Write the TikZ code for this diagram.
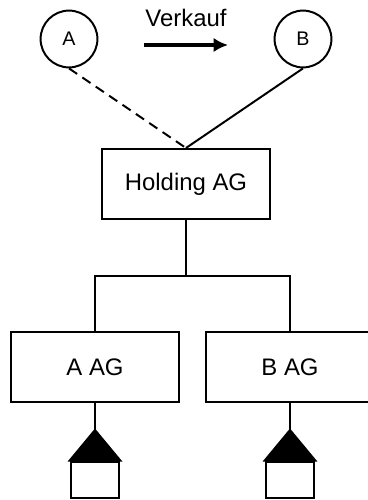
\documentclass[tikz,border=0pt]{standalone}
\usepackage{fontspec}
\setmainfont{Liberation Sans}
\usetikzlibrary{calc,arrows.meta}
\tikzset{
  firma/.style={draw, line width=1.4pt, minimum width=4.2cm, minimum height=1.75cm, font=\fontsize{17}{20}\selectfont},
  person/.style={draw, circle, line width=1.4pt, minimum size=1.42cm, inner sep=0pt, font=\fontsize{14}{17}\selectfont},
  anteil/.style={draw, line width=1.4pt, minimum width=1.22cm, minimum height=0.92cm},
  verbindung/.style={line width=1.4pt}
}
\begin{document}
\begin{tikzpicture}[x=0.025cm,y=-0.025cm]
  \useasboundingbox (0,0) rectangle (368,500);
  \node[person] (a) at (69,39) {A};
  \node[person] (b) at (303,39) {B};
  \node[firma] (holding) at (186,184) {Holding AG};
  \node[firma] (aag) at (95,367) {A AG};
  \node[firma] (bag) at (290,367) {B AG};
  \node[anteil] (sa) at (95,480) {};
  \node[anteil] (sb) at (290,480) {};
  \coordinate (ta) at (95,430);
  \coordinate (tb) at (290,430);
  \coordinate (joint) at (186,276);
  \node[font=\fontsize{17}{20}\selectfont] (verkauf) at (186,18) {Verkauf};
  \coordinate (vl) at (144,45);
  \coordinate (vr) at (228,45);
  \draw[line width=2.2pt, -{Latex[length=3.6mm,width=3.6mm]}] (vl) -- (vr);
  \draw[verbindung, dashed, dash pattern=on 7pt off 4.5pt] (a.south) -- (holding.north);
  \draw[verbindung] (b.south) -- (holding.north);
  \draw[verbindung] (holding.south) -- (joint);
  \draw[verbindung] (aag.north) |- (joint) -| (bag.north);
  \draw[verbindung] (aag.south) -- (ta);
  \draw[verbindung] (bag.south) -- (tb);
  \draw[verbindung, fill=black] (sa.north west) -- (ta) -- (sa.north east) -- cycle;
  \draw[verbindung, fill=black] (sb.north west) -- (tb) -- (sb.north east) -- cycle;
\end{tikzpicture}
\end{document}
